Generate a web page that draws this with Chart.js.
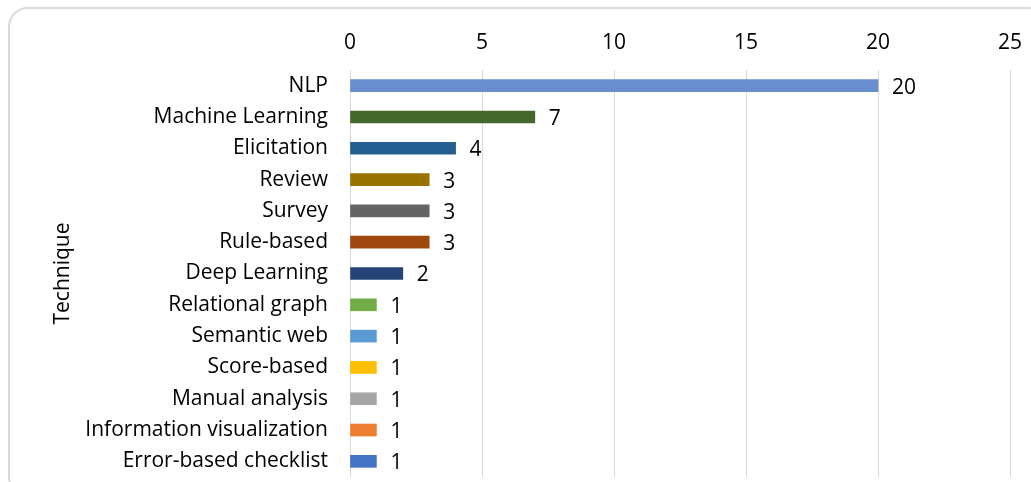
<!DOCTYPE html>
<html>
<head>
<meta charset="utf-8">
<script src="https://cdn.jsdelivr.net/npm/chart.js@4"></script>
<style>
  html, body { margin: 0; padding: 0; background: #fff; overflow: hidden; }
  #wrap { position: relative; width: 1031px; height: 482px; overflow: hidden; }
  #cadre { position: absolute; left: 8px; top: 7px; width: 1040px; height: 490px;
           border: 2px solid #D9D9D9; border-radius: 20px; box-sizing: border-box; }
  #graphique { position: absolute; left: 0; top: 0; }
</style>
</head>
<body>
<div id="wrap">
  <div id="cadre"></div>
  <canvas id="graphique" width="1031" height="482"></canvas>
</div>
<script>
// Données du graphique
const techniques = ['NLP', 'Machine Learning', 'Elicitation', 'Review', 'Survey', 'Rule-based', 'Deep Learning',
    'Relational graph', 'Semantic web', 'Score-based', 'Manual analysis', 'Information visualization', 'Error-based checklist'];
const nombres = [20, 7, 4, 3, 3, 3, 2, 1, 1, 1, 1, 1, 1];
const couleurs = ['#698ED0', '#43682B', '#255E91', '#997300', '#636363', '#9E480E', '#264478',
    '#70AD47', '#5B9BD5', '#FFC000', '#A5A5A5', '#ED7D31', '#4472C4'];
const ticksX = [0, 5, 10, 15, 20, 25];

const police = "'Open Sans', 'Liberation Sans', sans-serif";

// Étiquettes de valeur à droite des barres
const etiquettes = {
    id: 'etiquettes',
    afterDatasetsDraw(chart) {
        const ctx = chart.ctx;
        const meta = chart.getDatasetMeta(0);
        ctx.save();
        ctx.font = '21px ' + police;
        ctx.fillStyle = '#000';
        ctx.textAlign = 'left';
        ctx.textBaseline = 'middle';
        meta.data.forEach((barre, i) => {
            ctx.fillText(String(nombres[i]), barre.x + 14, barre.y + 2);
        });
        ctx.restore();
    }
};

const ctx = document.getElementById('graphique').getContext('2d');
new Chart(ctx, {
    type: 'bar',
    data: {
        labels: techniques,
        datasets: [{
            data: nombres,
            backgroundColor: couleurs,
            barThickness: 12
        }]
    },
    options: {
        indexAxis: 'y',
        responsive: false,
        animation: false,
        layout: { padding: { top: 0, right: 21, bottom: 5, left: 0 } },
        plugins: {
            legend: { display: false },
            tooltip: { enabled: false }
        },
        scales: {
            x: {
                position: 'top',
                min: 0,
                max: 25,
                afterBuildTicks: s => { s.ticks = ticksX.map(v => ({ value: v })); },
                afterFit: s => { s.height = 70; s.paddingLeft = 0; s.paddingRight = 0; },
                grid: { color: '#D9D9D9', lineWidth: 1, drawTicks: false },
                border: { display: false },
                ticks: { color: '#000', padding: 14, font: { family: police, size: 21 } }
            },
            y: {
                afterFit: s => { s.width = 350; s.paddingTop = 0; s.paddingBottom = 0; },
                grid: { display: false, drawTicks: false },
                border: { display: false },
                ticks: { color: '#000', padding: 22, font: { family: police, size: 21 } },
                title: {
                    display: true,
                    text: 'Technique',
                    color: '#000',
                    font: { family: police, size: 21 },
                    padding: { top: 50, bottom: 0 }
                }
            }
        }
    },
    plugins: [etiquettes]
});
</script>
</body>
</html>
